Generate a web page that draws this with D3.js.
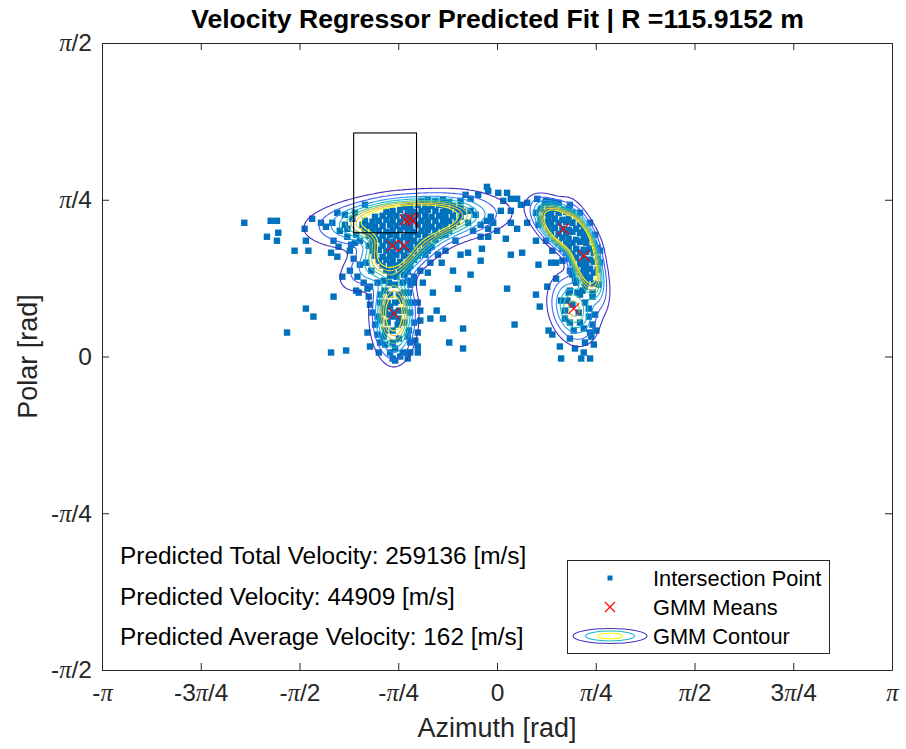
<!DOCTYPE html>
<html>
<head>
<meta charset="utf-8">
<script src="https://cdn.jsdelivr.net/npm/d3@7"></script>
<style>
  html, body { margin: 0; padding: 0; background: #fff; }
  svg { display: block; }
  text { font-family: "Liberation Sans", Arial, Helvetica, sans-serif; fill: #262626; }
</style>
</head>
<body>
<svg id="chart" width="906" height="749"></svg>
<script>
const PI = Math.PI;

// ---- axis ticks ----
const xTickValues = [-PI, -3 * PI / 4, -PI / 2, -PI / 4, 0, PI / 4, PI / 2, 3 * PI / 4, PI];
const xTickLabels = ["-π", "-3π/4", "-π/2", "-π/4", "0", "π/4", "π/2", "3π/4", "π"];
const yTickValues = [-PI / 2, -PI / 4, 0, PI / 4, PI / 2];
const yTickLabels = ["-π/2", "-π/4", "0", "π/4", "π/2"];

// ---- texts ----
const titleText = "Velocity Regressor Predicted Fit | R =115.9152 m";
const xLabelText = "Azimuth [rad]";
const yLabelText = "Polar [rad]";
const annotationLines = [
  "Predicted Total Velocity: 259136 [m/s]",
  "Predicted Velocity: 44909 [m/s]",
  "Predicted Average Velocity: 162 [m/s]"
];
const legendLabels = ["Intersection Point", "GMM Means", "GMM Contour"];

// ---- intersection points [azimuth, polar] in rad ----
const sparsePoints = [
  [-2.01,0.67],[-1.83,0.60],[-1.80,0.68],[-1.75,0.68],[-1.74,0.62],[-1.75,0.58],[-1.61,0.53],
  [-1.53,0.64],[-1.52,0.58],[-1.50,0.53],[-1.47,0.69],[-1.40,0.67],[-1.32,0.52],[-1.30,0.58],
  [-1.27,0.50],[-1.23,0.40],[-1.05,0.76],[-1.67,0.12],[-1.52,0.24],[-1.46,0.20],[-1.32,0.02],
  [-1.20,0.03],[-1.30,0.30],[-1.12,0.33],[-1.10,0.32],[-1.03,0.34],
  [-1.36,0.65],[-1.31,0.67],[-1.25,0.63],[-1.19,0.60],[-1.26,0.55],[-1.17,0.53],[-1.13,0.57],
  [-1.14,0.49],[-1.09,0.46],[-1.17,0.43],[-1.11,0.40],[-1.06,0.37],[-1.21,0.71],[-1.27,0.72],
  [-1.13,0.72],[-1.07,0.66],[-1.09,0.58],[-1.04,0.47],[-1.00,0.43],[-1.21,0.66],[-1.16,0.56],
  [-1.19,0.64],[-1.12,0.61],[-1.15,0.69]
];
const leftBlobPoints = [
  [-0.60,0.78],[-0.55,0.785],[-0.49,0.78],[-0.43,0.785],[-0.38,0.775],
  [-0.74,0.75],[-0.69,0.755],[-0.63,0.76],[-0.57,0.75],[-0.52,0.755],[-0.46,0.76],[-0.41,0.75],[-0.35,0.755],[-0.29,0.745],
  [-0.88,0.725],[-0.83,0.73],[-0.77,0.735],[-0.71,0.73],[-0.66,0.725],[-0.60,0.73],[-0.55,0.735],[-0.49,0.73],[-0.43,0.725],[-0.38,0.73],[-0.32,0.735],[-0.27,0.725],
  [-0.97,0.70],[-0.91,0.705],[-0.85,0.71],[-0.80,0.705],[-0.74,0.70],[-0.69,0.705],[-0.63,0.71],[-0.57,0.705],[-0.52,0.70],[-0.46,0.705],[-0.41,0.71],[-0.35,0.705],[-0.29,0.70],
  [-1.05,0.68],[-0.99,0.675],[-0.94,0.68],[-0.88,0.685],[-0.83,0.68],[-0.77,0.675],[-0.71,0.68],[-0.66,0.685],[-0.60,0.68],[-0.55,0.675],[-0.49,0.68],[-0.43,0.685],[-0.38,0.68],[-0.32,0.675],
  [-1.02,0.655],[-0.97,0.65],[-0.91,0.655],[-0.85,0.66],[-0.80,0.655],[-0.74,0.65],[-0.69,0.655],[-0.63,0.66],[-0.57,0.655],[-0.52,0.65],[-0.46,0.655],[-0.41,0.66],[-0.35,0.655],
  [-1.05,0.63],[-0.99,0.635],[-0.94,0.63],[-0.88,0.625],[-0.83,0.63],[-0.77,0.635],[-0.71,0.63],[-0.66,0.625],[-0.60,0.63],[-0.55,0.635],[-0.49,0.63],[-0.43,0.625],[-0.38,0.63],
  [-1.02,0.605],[-0.97,0.60],[-0.91,0.605],[-0.85,0.61],[-0.80,0.605],[-0.74,0.60],[-0.69,0.605],[-0.63,0.61],[-0.57,0.605],[-0.52,0.60],[-0.46,0.605],[-0.41,0.61],
  [-0.99,0.58],[-0.94,0.585],[-0.88,0.58],[-0.83,0.575],[-0.77,0.58],[-0.71,0.585],[-0.66,0.58],[-0.60,0.575],[-0.55,0.58],[-0.49,0.585],
  [-1.02,0.555],[-0.97,0.55],[-0.91,0.555],[-0.85,0.56],[-0.80,0.555],[-0.74,0.55],[-0.69,0.555],[-0.63,0.56],[-0.57,0.555],[-0.52,0.55],
  [-0.99,0.53],[-0.94,0.535],[-0.88,0.53],[-0.83,0.525],[-0.77,0.53],[-0.71,0.535],[-0.66,0.53],[-0.60,0.525],[-0.55,0.53],
  [-0.97,0.505],[-0.91,0.50],[-0.85,0.505],[-0.80,0.51],[-0.74,0.505],[-0.69,0.50],[-0.63,0.505],[-0.57,0.51],
  [-0.94,0.48],[-0.88,0.485],[-0.83,0.48],[-0.77,0.475],[-0.71,0.48],[-0.66,0.485],
  [-0.91,0.455],[-0.85,0.46],[-0.80,0.455],[-0.74,0.45],[-0.69,0.455],
  [-0.88,0.43],[-0.83,0.435],[-0.77,0.43],[-0.71,0.425],
  [-0.85,0.405],[-0.80,0.40],[-0.74,0.41]
];
const bridgePoints = [
  [-0.29,0.78],[-0.25,0.81],[-0.21,0.79],[-0.15,0.81],[-0.07,0.83],[-0.08,0.85],[0.01,0.82],
  [0.08,0.82],[0.11,0.79],[0.05,0.78],[0.16,0.79],[0.03,0.73],[0.11,0.73],[-0.05,0.70],
  [-0.08,0.68],[-0.13,0.66],[-0.07,0.64],[0.00,0.63],[-0.03,0.67],[0.11,0.67],[0.16,0.64],
  [0.19,0.76],[0.24,0.67],[0.31,0.58],[-0.13,0.60],[-0.07,0.60],[-0.12,0.54],[-0.23,0.52],
  [-0.29,0.51],[-0.13,0.48],[0.20,0.52],[0.33,0.46],[0.43,0.47],[0.47,0.47],[0.52,0.48],
  [0.24,0.77],[0.07,0.59],[0.11,0.51],[0.32,0.79],[-0.21,0.73],[-0.17,0.71],[-0.23,0.67],
  [-0.19,0.63],
  [-0.44,0.47],[-0.35,0.43],[-0.55,0.42],[-0.59,0.37],[-0.51,0.32],[-0.48,0.23],[-0.53,0.19],
  [-0.43,0.19],[-0.27,0.14],[-0.38,0.07],[-0.27,0.04],[-0.33,0.58],[-0.41,0.53],[-0.47,0.51],
  [-0.53,0.47],[-0.61,0.43],[-0.66,0.40],[-0.21,0.41],[-0.31,0.34],[-0.66,0.37]
];
const lowerLeftPoints = [
  [-1.01,0.35],[-0.95,0.37],[-0.90,0.38],[-0.86,0.37],[-0.81,0.36],[-0.75,0.37],[-0.71,0.38],
  [-0.69,0.36],[-0.89,0.33],[-0.74,0.32],[-0.70,0.32],[-0.87,0.27],[-0.81,0.27],[-0.85,0.25],
  [-0.78,0.23],[-0.89,0.22],[-0.83,0.20],[-0.78,0.19],[-0.87,0.17],[-0.74,0.17],[-0.93,0.18],
  [-0.69,0.22],[-0.66,0.17],[-0.67,0.27],[-0.99,0.22],[-0.97,0.16],[-1.03,0.12],[-0.95,0.11],
  [-0.90,0.10],[-0.83,0.07],[-0.78,0.09],[-0.71,0.10],[-0.69,0.07],[-0.89,0.06],[-0.93,0.07],
  [-0.81,0.04],[-0.75,0.02],[-0.71,0.02],[-0.81,-0.02],[-0.71,-0.01],[-0.77,0.00],[-0.69,0.02],
  [-0.63,0.02],[-0.85,0.02],[-0.83,-0.01],[-0.94,0.02],[-1.01,0.05],[-0.63,0.12],[-0.65,0.08],
  [-0.63,0.05],[-1.02,0.30],[-1.01,0.26],[-0.63,0.27],[-0.61,0.23],[-0.61,0.18],[-0.70,0.13],
  [-0.89,0.13],[-0.83,0.13],[-0.93,0.27],[-0.95,0.20],[-0.71,0.27],[-0.77,0.28],
  [-0.82,0.22],[-0.86,0.21],[-0.79,0.16],[-0.74,0.23],[-0.85,0.31],[-0.78,0.31],[-0.93,0.31],
  [-0.90,0.24]
];
const rightBlobPoints = [
  [0.38,0.77],[0.43,0.775],[0.49,0.77],
  [0.35,0.74],[0.41,0.745],[0.46,0.74],[0.52,0.735],[0.57,0.74],
  [0.38,0.72],[0.43,0.715],[0.49,0.72],[0.55,0.725],[0.60,0.72],
  [0.35,0.69],[0.41,0.695],[0.46,0.69],[0.52,0.685],[0.57,0.69],[0.63,0.695],
  [0.38,0.67],[0.43,0.665],[0.49,0.67],[0.55,0.675],[0.60,0.67],[0.66,0.665],
  [0.41,0.64],[0.46,0.645],[0.52,0.64],[0.57,0.635],[0.63,0.64],[0.69,0.645],
  [0.43,0.62],[0.49,0.615],[0.55,0.62],[0.60,0.625],[0.66,0.62],[0.71,0.615],
  [0.46,0.59],[0.52,0.595],[0.57,0.59],[0.63,0.585],[0.69,0.59],[0.74,0.595],
  [0.49,0.57],[0.55,0.565],[0.60,0.57],[0.66,0.575],[0.71,0.57],[0.77,0.565],
  [0.52,0.54],[0.57,0.545],[0.63,0.54],[0.69,0.535],[0.74,0.54],[0.80,0.545],
  [0.55,0.52],[0.60,0.515],[0.66,0.52],[0.71,0.525],[0.77,0.52],
  [0.57,0.49],[0.63,0.495],[0.69,0.49],[0.74,0.485],[0.80,0.49],
  [0.60,0.47],[0.66,0.465],[0.71,0.47],[0.77,0.475],
  [0.63,0.44],[0.69,0.445],[0.74,0.44],[0.80,0.435],
  [0.66,0.42],[0.71,0.415],[0.77,0.42],
  [0.69,0.39],[0.74,0.395],
  [0.71,0.37],[0.77,0.365],
  [0.39,0.78],[0.47,0.77],[0.58,0.76],[0.66,0.72],[0.74,0.67],[0.78,0.61],[0.82,0.53],
  [0.82,0.47],[0.31,0.72],[0.33,0.66],[0.39,0.58],[0.44,0.53],[0.58,0.43],[0.62,0.38],
  [0.68,0.33],[0.76,0.32],[0.81,0.36]
];
const lowerRightPoints = [
  [0.08,0.34],[0.31,0.31],[0.34,0.25],[0.14,0.16],[0.41,0.13],[0.44,0.11],[0.50,0.05],
  [0.51,-0.01],[0.67,-0.01],[0.74,-0.01],[0.62,0.04],[0.69,0.02],[0.58,0.09],[0.70,0.07],
  [0.74,0.12],[0.76,0.16],[0.73,0.24],[0.73,0.20],[0.66,0.17],[0.58,0.17],[0.56,0.28],
  [0.60,0.26],[0.66,0.31],[0.58,0.33],[0.57,0.32],[0.64,0.32],[0.70,0.27],[0.76,0.30],
  [0.47,0.39],[0.60,0.41],[0.63,0.37],[0.69,0.14],[0.75,0.10],[0.77,0.06],
  [0.54,0.23],[0.65,0.22],[0.51,0.28],[0.78,0.21],[0.79,0.13],[0.61,0.13],[0.54,0.19],
  [0.70,0.35],[0.40,0.35]
];

// ---- fitted Gaussian mixture (rad) ----
const gmmMeans = [
  [-0.73, 0.685], [-0.69, 0.69], [-0.67, 0.68], [-0.83, 0.555], [-0.74, 0.555],
  [-0.82, 0.215], [0.53, 0.64], [0.69, 0.505], [0.61, 0.24]
];
const gmmSigmaAz  = [0.30, 0.22, 0.36, 0.095, 0.20, 0.075, 0.10, 0.072, 0.09];
const gmmSigmaPol = [0.06, 0.04, 0.06, 0.08, 0.09, 0.10, 0.06, 0.10, 0.08];
const gmmRho      = [0.3, 0.2, 0.15, 0.0, 0.7, 0.0, -0.6, -0.6, -0.2];
const gmmWeights  = [0.155, 0.135, 0.05, 0.08, 0.12, 0.10, 0.15, 0.135, 0.045];
const contourLevels = [0.06, 0.16, 0.32, 0.5, 0.7, 0.9, 1.15, 1.45];

// ---- marked search window (rad) ----
const windowAz = [-1.14, -0.64];
const windowPol = [0.62, 1.12];

// parula colour stops
const parulaStops = ["#3e26a8", "#4740e6", "#3f6cfa", "#2c93f0", "#17adde", "#1bbfb8",
                     "#4bc78c", "#94c85b", "#d9ba3a", "#fcc934", "#f9fb0e"];
const parula = d3.piecewise(d3.interpolateRgb, parulaStops);

const svg = d3.select("#chart");
const L = 102, R = 892, T = 43, B = 670;

const x = d3.scaleLinear().domain([-PI, PI]).range([L, R]);
const y = d3.scaleLinear().domain([-PI / 2, PI / 2]).range([B, T]);

svg.append("defs").append("clipPath").attr("id", "plotClip")
  .append("rect").attr("x", L).attr("y", T).attr("width", R - L).attr("height", B - T);

const plotG = svg.append("g").attr("clip-path", "url(#plotClip)");

// scatter
const allPoints = [].concat(sparsePoints, leftBlobPoints, bridgePoints, lowerLeftPoints, rightBlobPoints, lowerRightPoints);
const ms = 6.4;
plotG.append("g").selectAll("rect").data(allPoints).join("rect")
  .attr("x", d => x(d[0]) - ms / 2)
  .attr("y", d => y(d[1]) - ms / 2)
  .attr("width", ms).attr("height", ms)
  .attr("fill", "#0072BD");

// GMM density contours
const comps = gmmMeans.map((m, k) => {
  const sa = gmmSigmaAz[k], sp = gmmSigmaPol[k], r = gmmRho[k];
  return { m, sa, sp, r, norm: gmmWeights[k] / (2 * PI * sa * sp * Math.sqrt(1 - r * r)) };
});
function pdf(a, p) {
  let s = 0;
  for (const c of comps) {
    const dx = (a - c.m[0]) / c.sa, dy = (p - c.m[1]) / c.sp;
    const q = (dx * dx - 2 * c.r * dx * dy + dy * dy) / (1 - c.r * c.r);
    s += c.norm * Math.exp(-0.5 * q);
  }
  return s;
}
const step = 2;
const nx = Math.ceil((R - L) / step), ny = Math.ceil((B - T) / step);
const grid = new Float64Array(nx * ny);
for (let j = 0; j < ny; j++) {
  const pol = y.invert(T + (j + 0.5) * step);
  for (let i = 0; i < nx; i++) {
    grid[j * nx + i] = pdf(x.invert(L + (i + 0.5) * step), pol);
  }
}
const contourSets = d3.contours().size([nx, ny]).thresholds(contourLevels)(grid);
const gridPath = d3.geoPath(d3.geoTransform({
  point(px, py) { this.stream.point(L + px * step, T + py * step); }
}));
const levelColor = i => parula(0.04 + 0.96 * i / (contourLevels.length - 1));
plotG.append("g").selectAll("path").data(contourSets).join("path")
  .attr("d", gridPath)
  .attr("fill", "none")
  .attr("stroke", (d, i) => levelColor(i))
  .attr("stroke-width", 1.1)
  .attr("stroke-linejoin", "round");

// GMM means
const xs = 5.5;
plotG.append("g").selectAll("path").data(gmmMeans).join("path")
  .attr("d", d => {
    const cx = x(d[0]), cy = y(d[1]);
    return `M${cx - xs},${cy - xs}L${cx + xs},${cy + xs}M${cx - xs},${cy + xs}L${cx + xs},${cy - xs}`;
  })
  .attr("stroke", "#FF0000").attr("stroke-width", 1.2).attr("fill", "none");

// search window
svg.append("rect")
  .attr("x", x(windowAz[0])).attr("y", y(windowPol[1]))
  .attr("width", x(windowAz[1]) - x(windowAz[0]))
  .attr("height", y(windowPol[0]) - y(windowPol[1]))
  .attr("fill", "none").attr("stroke", "#000").attr("stroke-width", 1.1);

// axes
const tickLen = 7;
function piLabels(sel, labels) {
  sel.selectAll(".tick text").each(function (d, i) {
    const t = d3.select(this);
    t.text(null);
    labels[i].split(/(π)/).filter(s => s.length).forEach(part => {
      const ts = t.append("tspan").text(part);
      if (part === "π") ts.attr("font-family", "'Liberation Serif', 'Times New Roman', serif").attr("font-style", "italic");
    });
  });
}
const axisColor = "#262626";
const gx = svg.append("g").attr("transform", `translate(0,${B})`)
  .call(d3.axisBottom(x).tickValues(xTickValues).tickFormat((d, i) => xTickLabels[i])
    .tickSizeInner(-tickLen).tickSizeOuter(0).tickPadding(14));
const gxt = svg.append("g").attr("transform", `translate(0,${T})`)
  .call(d3.axisTop(x).tickValues(xTickValues).tickFormat("").tickSizeInner(-tickLen).tickSizeOuter(0));
const gy = svg.append("g").attr("transform", `translate(${L},0)`)
  .call(d3.axisLeft(y).tickValues(yTickValues).tickFormat((d, i) => yTickLabels[i])
    .tickSizeInner(-tickLen).tickSizeOuter(0).tickPadding(10));
const gyr = svg.append("g").attr("transform", `translate(${R},0)`)
  .call(d3.axisRight(y).tickValues(yTickValues).tickFormat("").tickSizeInner(-tickLen).tickSizeOuter(0));
[gx, gxt, gy, gyr].forEach(g => {
  g.select(".domain").attr("stroke", axisColor).attr("stroke-width", 1);
  g.selectAll(".tick line").attr("stroke", axisColor).attr("stroke-width", 1);
  g.selectAll(".tick text").attr("font-size", 24.5).attr("font-family", null).attr("fill", axisColor);
});
piLabels(gx, xTickLabels);
piLabels(gy, yTickLabels);

// title and axis labels
svg.append("text").attr("x", (L + R) / 2 + 0.5).attr("y", 28)
  .attr("text-anchor", "middle").attr("font-size", 26.6).attr("font-weight", "bold")
  .style("fill", "#000").text(titleText);
svg.append("text").attr("x", (L + R) / 2).attr("y", 737)
  .attr("text-anchor", "middle").attr("font-size", 27).text(xLabelText);
svg.append("text").attr("transform", `translate(37,${(T + B) / 2}) rotate(-90)`)
  .attr("text-anchor", "middle").attr("font-size", 27).text(yLabelText);

// annotation text
svg.append("g").selectAll("text").data(annotationLines).join("text")
  .attr("x", 120).attr("y", (d, i) => 564 + i * 40.5)
  .attr("font-size", 24.4).style("fill", "#000").text(d => d);

// legend
const lg = svg.append("g");
lg.append("rect").attr("x", 567.5).attr("y", 560.5).attr("width", 262).attr("height", 93)
  .attr("fill", "#fff").attr("stroke", axisColor).attr("stroke-width", 1);
const lx = 610, ly = [578, 607, 636];
lg.append("rect").attr("x", lx - 2.5).attr("y", ly[0] - 2.5).attr("width", 5).attr("height", 5).attr("fill", "#0072BD");
lg.append("path").attr("d", `M${lx - 5},${ly[1] - 5}L${lx + 5},${ly[1] + 5}M${lx - 5},${ly[1] + 5}L${lx + 5},${ly[1] - 5}`)
  .attr("stroke", "#FF0000").attr("stroke-width", 1.1);
[[37, 7.5, 0.04], [24.5, 5, 0.45], [12.5, 2.8, 1]].forEach(([rx, ry, t]) => {
  lg.append("ellipse").attr("cx", lx).attr("cy", ly[2]).attr("rx", rx).attr("ry", ry)
    .attr("fill", "none").attr("stroke", parula(t)).attr("stroke-width", 1.1);
});
lg.selectAll("text.lab").data(legendLabels).join("text").attr("class", "lab")
  .attr("x", 653).attr("y", (d, i) => ly[i] + 7.5)
  .attr("font-size", 21.8).style("fill", "#000").text(d => d);
</script>
</body>
</html>
